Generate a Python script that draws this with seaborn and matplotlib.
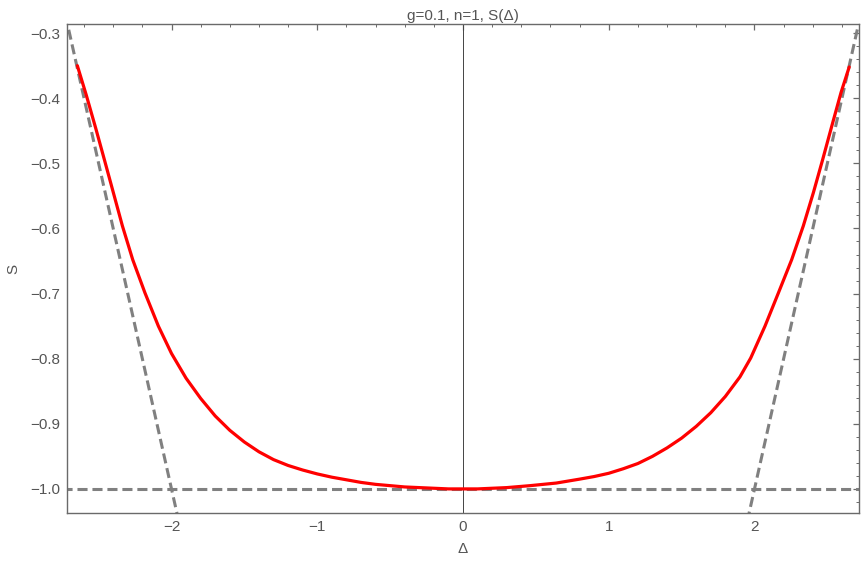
import numpy as np
import pandas as pd
import matplotlib
matplotlib.use("Agg")
import matplotlib.pyplot as plt
from matplotlib import ticker
import seaborn as sns

# datos
delta = [-2.646, -2.585, -2.52, -2.461, -2.399, -2.337, -2.266, -2.182, -2.09,
         -2.0, -1.9, -1.8, -1.7, -1.6, -1.5, -1.4, -1.3, -1.2, -1.1, -1.0,
         -0.9, -0.8, -0.7, -0.6, -0.5, -0.4, -0.3, -0.2, -0.1, 0.0,
         0.1, 0.3, 0.46, 0.64, 0.8, 0.9, 1.0, 1.1, 1.2, 1.3, 1.4, 1.5, 1.6,
         1.7, 1.8, 1.9, 1.974, 2.072, 2.164, 2.255, 2.335, 2.404, 2.468, 2.53,
         2.594, 2.65]
S = [-0.35, -0.395, -0.446, -0.494, -0.545, -0.596, -0.648, -0.699, -0.75,
     -0.792, -0.83, -0.861, -0.888, -0.91, -0.928, -0.943, -0.955, -0.964, -0.971, -0.977,
     -0.982, -0.986, -0.99, -0.993, -0.995, -0.997, -0.998, -0.999, -1.0, -1.0,
     -1.0, -0.998, -0.995, -0.991, -0.985, -0.981, -0.976, -0.969, -0.961, -0.95,
     -0.937, -0.922, -0.904, -0.883, -0.858, -0.828, -0.799, -0.75, -0.699, -0.648,
     -0.596, -0.545, -0.494, -0.443, -0.391, -0.352]

# asintotas (lineas punteadas)
asin_izq_x = [-2.75, -1.95]
asin_izq_y = [-0.25, -1.05]
asin_der_x = [1.95, 2.75]
asin_der_y = [-1.05, -0.25]
horiz_x = [-2.75, 2.75]
horiz_y = [-1.0, -1.0]

titulo = "g=0.1, n=1, S(Δ)"

sns.set_style("white")
plt.rcParams['font.family'] = ['Liberation Sans', 'DejaVu Sans']

curva = pd.DataFrame({'Delta': delta, 'S': S})

fig = plt.figure(figsize=(8.61, 5.65), dpi=100)
ax = fig.add_axes([67/861, 1-513/565, (859-67)/861, (513-24)/565])

gris = '#808080'
dash = (3.3, 1.6)
ax.plot(asin_izq_x, asin_izq_y, color=gris, lw=2.2, dashes=dash, zorder=2)
ax.plot(asin_der_x, asin_der_y, color=gris, lw=2.2, dashes=dash, zorder=2)
ax.plot(horiz_x, horiz_y, color=gris, lw=2.2, dashes=dash, zorder=2)

ax.axvline(0, color='#444444', lw=0.7, zorder=1)

sns.lineplot(data=curva, x='Delta', y='S', ax=ax, color='red', lw=2.3,
             sort=False, estimator=None, zorder=3)

ax.set_xlim(-2.717, 2.717)
ax.set_ylim(-1.037, -0.286)

ax.xaxis.set_major_locator(ticker.MultipleLocator(1))
ax.xaxis.set_minor_locator(ticker.MultipleLocator(0.2))
ax.yaxis.set_major_locator(ticker.MultipleLocator(0.1))
ax.yaxis.set_minor_locator(ticker.MultipleLocator(0.02))

menos = lambda s: s.replace('-', '\u2212')
ax.xaxis.set_major_formatter(ticker.FuncFormatter(lambda v, p: menos('%d' % round(v))))
ax.yaxis.set_major_formatter(ticker.FuncFormatter(lambda v, p: menos('%.1f' % v)))

marco = '#6a6a6a'
for sp in ax.spines.values():
    sp.set_color(marco)
    sp.set_linewidth(1.0)

ax.tick_params(which='both', direction='in', top=True, right=True,
               color=marco, labelcolor='#555555', labelsize=11)
ax.tick_params(which='major', length=4, width=0.9, pad=5)
ax.tick_params(which='minor', length=2.5, width=0.7)

ax.set_title(titulo, fontsize=11, color='#555555', pad=3)
ax.set_xlabel('Δ', fontsize=11, color='#555555', labelpad=6)
ax.set_ylabel('S', fontsize=11, color='#555555', labelpad=7)

fig.savefig('out.png', dpi=100)
